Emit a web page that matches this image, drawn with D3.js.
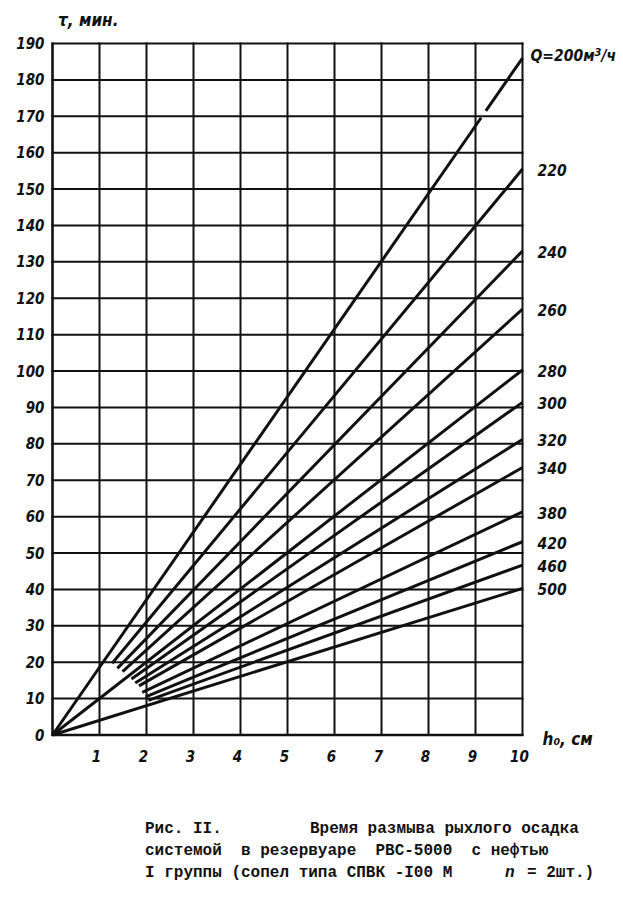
<!DOCTYPE html>
<html><head><meta charset="utf-8">
<script src="https://cdn.jsdelivr.net/npm/d3@7"></script>
<style>
html,body{margin:0;padding:0;background:#fff;}
svg{display:block;}
.hand{font-family:"DejaVu Sans Condensed","Liberation Sans Narrow","Liberation Sans",sans-serif;font-weight:bold;font-style:italic;fill:#111;}
.cap{font-family:"Liberation Mono","DejaVu Sans Mono",monospace;font-weight:bold;font-size:16px;fill:#111;}
</style></head>
<body>
<script>
// ---- data ----
const hTicks = [1,2,3,4,5,6,7,8,9,10];
const tauTicks = [0,10,20,30,40,50,60,70,80,90,100,110,120,130,140,150,160,170,180,190];
const flowLabels = ["200","220","240","260","280","300","320","340","380","420","460","500"];
const startH   = [0, 1.27, 1.38, 1.49, 0, 1.68, 1.76, 1.84, 1.91, 1.98, 2.04, 0];
const startTau = [0, 19.7, 18.3, 17.4, 0, 15.4, 14.3, 13.5, 11.7, 10.5, 9.5, 0];
const endTau   = [186, 155.5, 133, 117, 100.3, 91.4, 81.2, 73.5, 61.3, 53.1, 46.7, 40.3];
const gapH   = [9.12, 9.22];   // break in the Q=200 line
const gapTau = [169.6, 171.5];
const captionLines = [
  ["Рис. II.", "Время размыва рыхлого осадка"],
  ["системой  в резервуаре  РВС-5000  с нефтью"],
  ["I группы (сопел типа СПВК -I00 М"]
];

const W = 623, H = 907;
const svg = d3.select("body").append("svg").attr("width", W).attr("height", H);

const x = d3.scaleLinear().domain([0, 10]).range([52.5, 522.5]);
const y = d3.scaleLinear().domain([0, 190]).range([735, 43.5]);

// grid
const g = svg.append("g").attr("stroke", "#111").attr("stroke-width", 2).attr("fill", "none");
g.selectAll("line.v").data([0].concat(hTicks)).join("line")
  .attr("x1", d => x(d)).attr("x2", d => x(d)).attr("y1", y(0)+1).attr("y2", y(190)-1)
  .attr("stroke-width", d => d === 0 ? 2.6 : 2);
g.selectAll("line.h").data(tauTicks).join("line")
  .attr("x1", x(0)-1).attr("x2", x(10)+1).attr("y1", d => y(d)).attr("y2", d => y(d))
  .attr("stroke-width", d => d === 0 ? 2.6 : 2);

// y tick labels
svg.append("g").selectAll("text").data(tauTicks).join("text")
  .attr("class", "hand").attr("font-size", 15)
  .attr("x", x(0) - 8).attr("y", d => y(d) + 5.5).attr("text-anchor", "end")
  .text(d => d);

// x tick labels
svg.append("g").selectAll("text").data(hTicks).join("text")
  .attr("class", "hand").attr("font-size", 15)
  .attr("x", d => x(d) - 3).attr("y", y(0) + 27).attr("text-anchor", "middle")
  .text(d => d);

// axis titles
svg.append("text").attr("class", "hand").attr("font-size", 17)
  .attr("x", 58).attr("y", 26).text("τ, мин.");
svg.append("text").attr("class", "hand").attr("font-size", 17)
  .attr("x", x(10) + 20).attr("y", y(0) + 10).text("h₀, см");

// curves
const line = d3.line().x(d => x(d[0])).y(d => y(d[1]));
const segs = [];
flowLabels.forEach((q, i) => {
  if (i === 0) {
    segs.push([[startH[i], startTau[i]], [gapH[0], gapTau[0]]]);
    segs.push([[gapH[1], gapTau[1]], [10, endTau[i]]]);
  } else {
    segs.push([[startH[i], startTau[i]], [10, endTau[i]]]);
  }
});
svg.append("g").selectAll("path").data(segs).join("path")
  .attr("d", line).attr("fill", "none").attr("stroke", "#111")
  .attr("stroke-width", 3).attr("stroke-linecap", "butt");

// curve labels
const lab = svg.append("g");
flowLabels.forEach((q, i) => {
  const t = lab.append("text").attr("class", "hand").attr("font-size", 15.5)
    .attr("y", y(endTau[i]) + 7);
  if (i === 0) {
    t.attr("x", x(10) + 8).attr("y", y(endTau[i]) + 3);
    t.append("tspan").text("Q=" + q + "м");
    t.append("tspan").attr("dy", -5).attr("font-size", 11).text("3");
    t.append("tspan").attr("dy", 5).text("/ч");
  } else {
    t.attr("x", x(10) + 15).text(q);
  }
});

// caption
const cap = svg.append("g");
cap.append("text").attr("class", "cap").attr("x", 145).attr("y", 833).text(captionLines[0][0]);
cap.append("text").attr("class", "cap").attr("x", 310).attr("y", 833).text(captionLines[0][1]);
cap.append("text").attr("class", "cap").attr("x", 145).attr("y", 855).attr("xml:space", "preserve").text(captionLines[1][0]);
cap.append("text").attr("class", "cap").attr("x", 145).attr("y", 877).text(captionLines[2][0]);
cap.append("text").attr("class", "cap").attr("x", 505).attr("y", 877)
  .attr("font-style", "italic").text("n");
cap.append("text").attr("class", "cap").attr("x", 527).attr("y", 877).text("= 2шт.)");
</script>
</body></html>
